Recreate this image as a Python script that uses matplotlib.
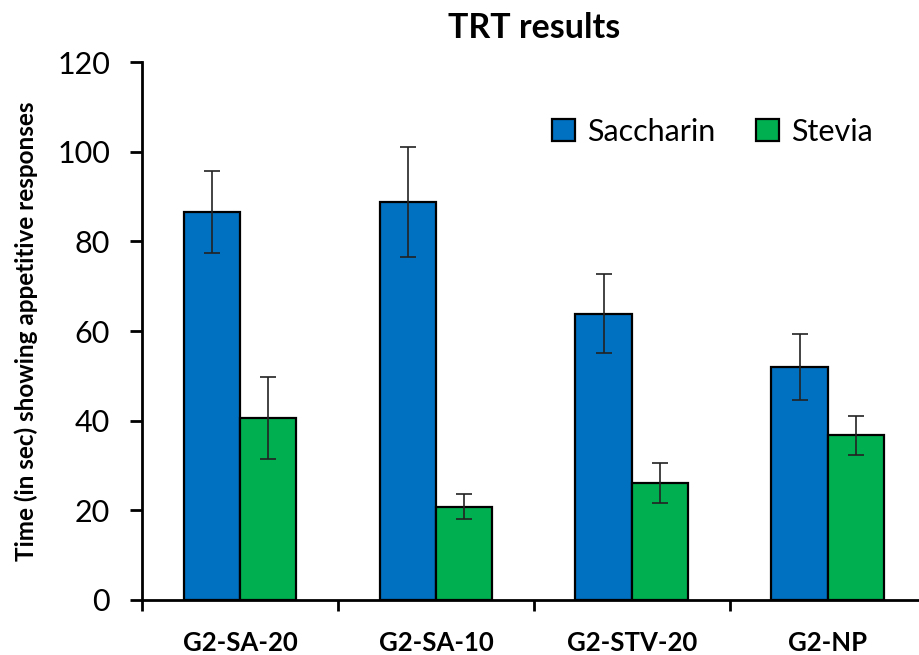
import matplotlib
matplotlib.use("Agg")
import matplotlib.pyplot as plt
import numpy as np

plt.rcParams['font.family'] = ['Lato', 'DejaVu Sans']

categories = ["G2-SA-20", "G2-SA-10", "G2-STV-20", "G2-NP"]
saccharin = [86.5, 88.8, 63.9, 52.0]
saccharin_err = [9.2, 12.2, 8.8, 7.4]
stevia = [40.6, 20.8, 26.1, 36.7]
stevia_err = [9.1, 2.8, 4.4, 4.4]
yticks = [0, 20, 40, 60, 80, 100, 120]

fig = plt.figure(figsize=(9.19, 6.55), dpi=100)
ax = fig.add_axes([0.1545, 0.084, 0.853, 0.8213])

x = np.arange(len(categories))
w = 0.288
ax.bar(x - w/2, saccharin, w, color='#0070C0', edgecolor='black', linewidth=1.6,
       label='Saccharin', zorder=2)
ax.bar(x + w/2, stevia, w, color='#00B050', edgecolor='black', linewidth=1.6,
       label='Stevia', zorder=2)
ax.errorbar(x - w/2, saccharin, yerr=saccharin_err, fmt='none', ecolor='#222222',
            elinewidth=1.2, capsize=6, capthick=1.2, zorder=3)
ax.errorbar(x + w/2, stevia, yerr=stevia_err, fmt='none', ecolor='#222222',
            elinewidth=1.2, capsize=6, capthick=1.2, zorder=3)

ax.set_xlim(-0.5, len(categories) - 0.5)
ax.set_ylim(0, 120)
ax.set_yticks(yticks)
ax.set_yticklabels([str(t) for t in yticks], fontsize=22)
ax.set_xticks(x)
ax.set_xticklabels(categories, fontsize=18.5, fontweight='bold')
ax.tick_params(axis='x', length=0, pad=22)
ax.set_xticks(np.arange(len(categories) + 1) - 0.5, minor=True)
ax.tick_params(axis='x', which='minor', length=8, width=2, direction='out')
ax.tick_params(axis='y', length=9, width=2, direction='out', pad=14)

for s in ['top', 'right']:
    ax.spines[s].set_visible(False)
for s in ['left', 'bottom']:
    ax.spines[s].set_linewidth(2)

ax.set_ylabel('Time (in sec) showing appetitive responses', fontsize=17.5,
              fontweight='bold', labelpad=14)
ax.set_title('TRT results', fontsize=24.5, fontweight='bold', pad=17)

ax.legend(loc='upper right', bbox_to_anchor=(0.968, 0.948), ncol=2, frameon=False,
          fontsize=22, handlelength=0.75, handleheight=0.75, columnspacing=1.35,
          handletextpad=0.4)

fig.savefig('out.png', dpi=100)
